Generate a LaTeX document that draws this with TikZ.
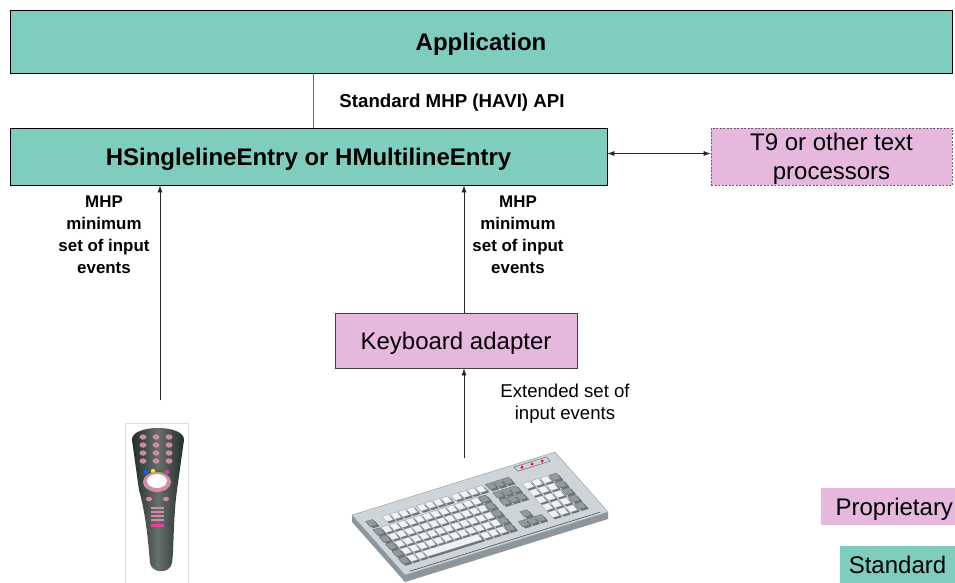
\documentclass[tikz,border=0pt]{standalone}
\usepackage{fontspec}
\setmainfont{Liberation Sans}
\usetikzlibrary{arrows.meta}
\definecolor{stdgreen}{RGB}{127,205,190}
\definecolor{propink}{RGB}{230,184,222}
\definecolor{keypink}{RGB}{208,140,162}
\definecolor{remgrey}{RGB}{38,48,48}
\definecolor{kbface}{RGB}{206,212,216}
\definecolor{kbside}{RGB}{140,150,156}
\definecolor{kblite}{RGB}{240,243,245}
\definecolor{kbgrey}{RGB}{146,154,158}
\newcommand\kbkey[4]{\fill[kbgrey!75!black] (#1+0.004,#2+0.03) -- ++(#3,0) -- ++(0,0.09) -- ++(-#3,0) -- cycle;
  \filldraw[#4] (#1,#2) -- ++(#3,0) -- ++(0,0.09) -- ++(-#3,0) -- cycle;}
\begin{document}
\begin{tikzpicture}[x=1pt,y=-1pt,
    stdbox/.style={draw=black, line width=0.8pt, fill=stdgreen, inner sep=0pt},
    propbox/.style={draw=black!75, line width=0.8pt, fill=propink, inner sep=0pt},
    bigtext/.style={font=\fontsize{24}{29}\selectfont, align=center, text depth=0pt},
    bigbold/.style={font=\bfseries\fontsize{24}{29}\selectfont, text depth=0pt},
    evtext/.style={font=\bfseries\fontsize{16.9}{22}\selectfont, align=center},
    smalltext/.style={font=\fontsize{18.6}{22}\selectfont, align=center},
    arr/.style={-{Latex[length=7pt,width=5pt]}, line width=0.7pt, black!85},
    kblt/.style={fill=kblite, draw=kbgrey, line width=0.3pt},
    kbdk/.style={fill=kbgrey, draw=kbgrey!70!black, line width=0.3pt}]
\useasboundingbox (0,0) rectangle (955,583);

% boxes
\node[stdbox, bigbold, minimum width=942pt, minimum height=63pt] (app) at (481,41.5) {Application};
\node[stdbox, bigbold, minimum width=597pt, minimum height=57pt] (entry) at (308.5,156.5) {HSinglelineEntry or HMultilineEntry};
\node[propbox, bigtext, draw=black!60, dash pattern=on 2pt off 1.5pt, minimum width=241pt, minimum height=57pt] (t9) at (831.5,156.5) {T9 or other text\\processors};
\node[propbox, bigtext, minimum width=242pt, minimum height=55pt] (adapter) at (456,340.5) {Keyboard adapter};

% legend
\node[fill=propink, bigtext, text width=130pt, align=right, inner xsep=2pt, minimum height=37pt] (legprop) at (888,506.5) {Proprietary};
\node[fill=stdgreen, bigtext, minimum width=115pt, minimum height=37pt, inner sep=0pt] (legstd) at (897.5,564.5) {Standard};

% texts
\node[font=\bfseries\fontsize{18.7}{22}\selectfont] (apitext) at (452,103) {Standard MHP (HAVI) API};
\node[evtext] (evleft) at (104,235) {MHP\\minimum\\set of input\\events};
\node[evtext] (evright) at (518,235) {MHP\\minimum\\set of input\\events};
\node[smalltext] (evext) at (565,404) {Extended set of\\input events};

% connectors
\coordinate (api) at (313,100);
\coordinate (remtop) at (160,400);
\coordinate (kbtop) at (464,458);
\draw[black!60, line width=0.7pt] (api |- app.south) -- (api |- entry.north);
\draw[{Latex[length=7pt,width=5pt]}-{Latex[length=7pt,width=5pt]}, line width=0.7pt, black!85] ([yshift=3pt]entry.east) -- ([yshift=3pt]t9.west);
\draw[arr] (remtop) -- (remtop |- entry.south);
\draw[arr] (kbtop) -- (kbtop |- adapter.south);
\draw[arr] (adapter.north -| kbtop) -- (entry.south -| kbtop);

% remote control
\draw[black!12, fill=white] (125,423) rectangle (188,583);
\shade[left color=remgrey!85!black, right color=remgrey!85!black, middle color=remgrey!70!white]
  (132,440) .. controls (131,424) and (185,424) .. (184,440) -- (177,490)
  .. controls (173,520) and (174,550) .. (172,563) .. controls (170,574) and (152,574) .. (150,563)
  .. controls (148,540) and (146,515) .. (139,490) -- cycle;
\foreach \bx in {143,156,169} {
  \foreach \by in {437,445,453,461} {
    \fill[keypink] (\bx,\by) ellipse (3.4 and 2.7);
  }
}
\fill[blue!60!cyan] (146,472) circle (2.2);
\fill[yellow!90!orange] (153,471) circle (2.2);
\fill[green!60!black] (160,471) circle (2.2);
\fill[magenta!80] (167,472) circle (2.2);
\fill[keypink] (157,482) ellipse (14 and 10);
\fill[white] (157,481) ellipse (10 and 7);
\fill[keypink] (149,499) ellipse (3 and 2.2);
\fill[keypink] (166,499) ellipse (3 and 2.2);
\foreach \by in {507,511,515,519} {
  \fill[keypink] (151,\by) rectangle (164,\by+2.2);
}
\fill[magenta!70!pink] (151,524) rectangle (164,527);

% keyboard
\fill[kbside] (352,515) -- (405,575) -- (608,512) -- (608,519) -- (405,582) -- (352,522) -- cycle;
\begin{scope}[shift={(352,515)}, x={(203pt,63pt)}, y={(53pt,-60pt)}]
  \filldraw[fill=kbface, draw=kbgrey] (0,0) -- (1,0) -- (1,1) -- (0,1) -- cycle;
  \draw[black!70, line width=0.6pt] (0.03,0.97) -- (0.97,0.97);
  % function row
  \kbkey{0.03}{0.14}{0.034}{kbdk}
  \foreach \c in {0,...,3} {
    \kbkey{0.11+0.04*\c}{0.14}{0.034}{kblt}
    \kbkey{0.28+0.04*\c}{0.14}{0.034}{kblt}
    \kbkey{0.45+0.04*\c}{0.14}{0.034}{kblt}
  }
  % main block
  \foreach \r in {0,...,4} {
    \foreach \c in {0,...,13} {
      \kbkey{0.03+0.04*\c}{0.28+0.12*\r}{0.034}{kblt}
    }
    \kbkey{0.03}{0.28+0.12*\r}{0.034}{kbdk}
    \kbkey{0.55}{0.28+0.12*\r}{0.034}{kbdk}
  }
  \kbkey{0.15}{0.76}{0.27}{kblt}
  % navigation keys
  \foreach \c in {0,...,2} {
    \kbkey{0.62+0.04*\c}{0.14}{0.034}{kbdk}
    \kbkey{0.62+0.04*\c}{0.28}{0.034}{kbdk}
    \kbkey{0.62+0.04*\c}{0.40}{0.034}{kbdk}
    \kbkey{0.62+0.04*\c}{0.76}{0.034}{kbdk}
  }
  \kbkey{0.66}{0.64}{0.034}{kbdk}
  % number pad
  \foreach \r in {0,...,4} {
    \foreach \c in {0,...,2} {
      \kbkey{0.765+0.044*\c}{0.28+0.12*\r}{0.036}{kblt}
    }
    \kbkey{0.897}{0.28+0.12*\r}{0.036}{kbdk}
  }
  % indicator lights
  \filldraw[fill=kbface, draw=kbgrey!60!black] (0.79,0.03) -- (0.95,0.03) -- (0.95,0.1) -- (0.79,0.1) -- cycle;
  \foreach \c in {0.82,0.87,0.92} {
    \fill[red!80!magenta] (\c,0.065) circle (1.6pt);
  }
\end{scope}
\end{tikzpicture}
\end{document}
